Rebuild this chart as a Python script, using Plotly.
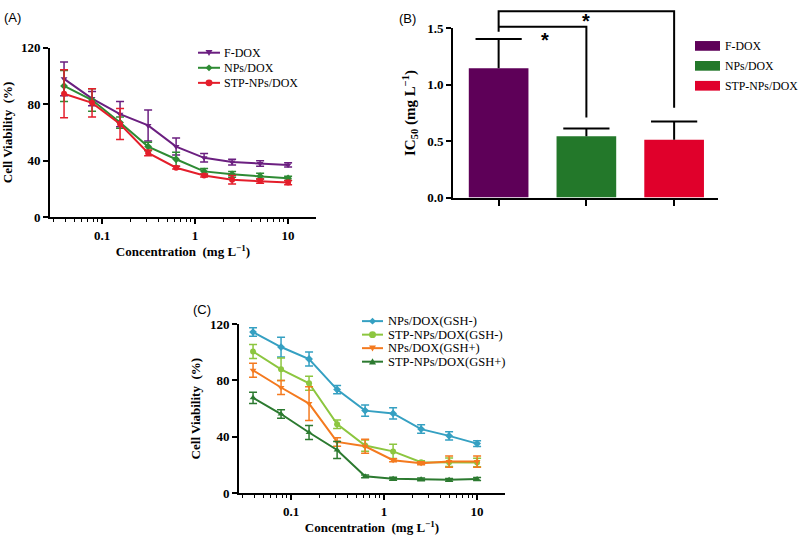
import plotly.graph_objects as go

# ---------------- data ----------------
conc = [0.039, 0.078, 0.156, 0.3125, 0.625, 1.25, 2.5, 5, 10]

# Panel A
a_names = ["F-DOX", "NPs/DOX", "STP-NPs/DOX"]
a_fdox = [98, 84, 73, 65, 50, 42, 39, 38, 37]
a_fdox_err = [12, 5, 9, 11, 6, 3, 2, 2, 1.5]
a_nps = [93, 83, 67, 50, 41, 32.4, 30.3, 29, 27.5]
a_nps_err = [11, 8, 4, 3, 5, 2, 2, 2, 1.5]
a_stp = [87.5, 81, 66, 45.5, 35, 29.5, 26.4, 25.5, 24.5]
a_stp_err = [17, 10, 11, 2, 1, 1, 3, 1.5, 1.5]

# Panel B
b_names = ["F-DOX", "NPs/DOX", "STP-NPs/DOX"]
b_ic50 = [1.147, 0.543, 0.514]
b_err = [0.26, 0.07, 0.16]
b_sig_top = 1.652
b_sig_low = 1.514
b_sig_left_end = 1.47
b_sig_right_ends = [0.71, 0.796]
b_ymax = 1.5

# Panel C
c_names = ["NPs/DOX(GSH-)", "STP-NPs/DOX(GSH-)", "NPs/DOX(GSH+)", "STP-NPs/DOX(GSH+)"]
c_nps_m = [114.3, 103.7, 95.2, 73.5, 58.6, 56.6, 45.5, 40.7, 35.2]
c_nps_m_err = [3, 7, 5, 3, 4, 4, 3, 3, 2]
c_stp_m = [100.5, 87.9, 78, 49, 33.8, 29.7, 22, 22, 21.8]
c_stp_m_err = [5, 8, 5, 3, 4, 5, 1, 3, 3]
c_nps_p = [87.2, 75, 63.6, 36.4, 33.3, 23.4, 21.3, 22.5, 22.5]
c_nps_p_err = [5, 5, 12, 3, 5, 1, 1, 4, 4]
c_stp_p = [67.7, 56.2, 43.1, 30.7, 12, 10.3, 9.9, 9.5, 10.1]
c_stp_p_err = [4, 3, 5, 6, 1, 1, 1, 1, 1]

y_ticks = [0, 40, 80, 120]
x_major = [0.1, 1, 10]
x_major_text = ["0.1", "1", "10"]
x_minor = [v * m for m in (0.01, 0.1, 1) for v in range(2, 10)] + [20]

# ---------------- styling ----------------
SERIF = "Liberation Serif"
SANS = "Liberation Sans"
a_colors = ["#6B1F80", "#2E8B34", "#E41E2B"]
a_symbols = ["triangle-down", "diamond", "circle"]
b_colors = ["#5E0058", "#23782A", "#E0002B"]
c_colors = ["#35A0C2", "#8CC63F", "#F47A1F", "#2C7A30"]
c_symbols = ["diamond", "circle", "triangle-down", "triangle-up"]

W, H = 800, 546
def px_x(p):
    return p / W
def px_y(p):
    return 1 - p / H

fig = go.Figure()

for name, ys, es, col, sym in zip(
        a_names, [a_fdox, a_nps, a_stp], [a_fdox_err, a_nps_err, a_stp_err],
        a_colors, a_symbols):
    fig.add_trace(go.Scatter(
        x=conc, y=ys, name=name, mode="lines+markers",
        line=dict(color=col, width=2),
        marker=dict(symbol=sym, size=6, color=col),
        error_y=dict(type="data", array=es, visible=True, color=col,
                     thickness=1.5, width=4),
        xaxis="x", yaxis="y", showlegend=False, cliponaxis=False))

for name, v, e, col in zip(b_names, b_ic50, b_err, b_colors):
    fig.add_trace(go.Bar(
        x=[name], y=[v], name=name, marker=dict(color=col, line=dict(width=0)),
        error_y=dict(type="data", array=[e], arrayminus=[0], symmetric=False,
                     visible=True, color="black", thickness=2, width=0),
        xaxis="x2", yaxis="y2", showlegend=False))

# top caps of the bar error bars (no cap on the bar top itself)
fig.add_trace(go.Scatter(
    x=b_names, y=[v + e for v, e in zip(b_ic50, b_err)], mode="markers",
    marker=dict(symbol="line-ew-open", size=33, color="black",
                line=dict(color="black", width=2)),
    showlegend=False, hoverinfo="skip", xaxis="x2", yaxis="y2",
    cliponaxis=False))

for name, ys, es, col, sym in zip(
        c_names, [c_nps_m, c_stp_m, c_nps_p, c_stp_p],
        [c_nps_m_err, c_stp_m_err, c_nps_p_err, c_stp_p_err],
        c_colors, c_symbols):
    fig.add_trace(go.Scatter(
        x=conc, y=ys, name=name, mode="lines+markers",
        line=dict(color=col, width=2),
        marker=dict(symbol=sym, size=6, color=col),
        error_y=dict(type="data", array=es, visible=True, color=col,
                     thickness=1.5, width=4),
        xaxis="x3", yaxis="y3", showlegend=False, cliponaxis=False))

tickfont = dict(family=SERIF, size=13, color="black", weight="bold")
titlefont = dict(family=SERIF, size=13, color="black", weight="bold")
nb = "\u00a0"

log_axis = dict(type="log", range=[-1.56, 1.30], tickmode="array",
                tickvals=x_major, ticktext=x_major_text, ticks="outside",
                ticklen=5, tickwidth=1.5, tickcolor="black",
                minor=dict(tickmode="array", tickvals=x_minor, ticks="outside",
                           ticklen=3, tickwidth=1.2, tickcolor="black"),
                showline=True, linecolor="black", linewidth=2,
                showgrid=False, zeroline=False, tickfont=tickfont,
                title=dict(text="Concentration" + nb + nb + "(mg L<sup>\u22121</sup>)",
                           font=titlefont, standoff=4))
lin_axis = dict(range=[0, 120], tickmode="array", tickvals=y_ticks,
                ticks="outside", ticklen=5, tickwidth=1.5, tickcolor="black",
                showline=True, linecolor="black", linewidth=2,
                showgrid=False, zeroline=False, tickfont=tickfont,
                title=dict(text="Cell Viability" + nb + nb + "(%)", font=titlefont,
                           standoff=6))

fig.update_layout(
    width=W, height=H, margin=dict(l=0, r=0, t=0, b=0),
    paper_bgcolor="white", plot_bgcolor="white", showlegend=False,
    xaxis=dict(domain=[px_x(50), px_x(316)], anchor="y", **log_axis),
    yaxis=dict(domain=[px_y(216), px_y(42)], anchor="x", **lin_axis),
    xaxis2=dict(domain=[px_x(453), px_x(718)], anchor="y2", range=[-0.52, 2.5],
                showticklabels=False, ticks="outside", ticklen=6, tickwidth=1.5,
                tickcolor="black", showline=True, linecolor="black", linewidth=2,
                showgrid=False, zeroline=False),
    yaxis2=dict(domain=[px_y(196), px_y(22)], anchor="x2", range=[0, b_ymax],
                dtick=0.5, tickformat=".1f", ticks="outside", ticklen=5,
                tickwidth=1.5, tickcolor="black", showline=True,
                linecolor="black", linewidth=2, showgrid=False, zeroline=False,
                tickfont=tickfont,
                title=dict(text="IC<sub>50</sub>" + nb + "(mg" + nb + "L<sup>\u22121</sup>)",
                           font=dict(family=SERIF, size=15, color="black",
                                     weight="bold"), standoff=8)),
    xaxis3=dict(domain=[px_x(239), px_x(505)], anchor="y3", **log_axis),
    yaxis3=dict(domain=[px_y(500), px_y(326)], anchor="x3", **lin_axis),
    bargap=0.32,
)

shapes = []
annots = []

# significance brackets in panel B
shapes += [
    dict(type="path", xref="x2", yref="y2 domain",
         path=f"M 0 {b_sig_left_end / b_ymax} L 0 {b_sig_top / b_ymax} "
              f"L 2 {b_sig_top / b_ymax} L 2 {b_sig_right_ends[1] / b_ymax}",
         line=dict(color="black", width=2)),
    dict(type="path", xref="x2", yref="y2 domain",
         path=f"M 0 {b_sig_low / b_ymax} L 1 {b_sig_low / b_ymax} "
              f"L 1 {b_sig_right_ends[0] / b_ymax}",
         line=dict(color="black", width=2)),
]
star_font = dict(family=SANS, size=20, color="black", weight="bold")
annots += [
    dict(text="*", x=0.53, y=1.51 / b_ymax, xref="x2", yref="y2 domain",
         showarrow=False, font=star_font),
    dict(text="*", x=1.0, y=1.685 / b_ymax, xref="x2", yref="y2 domain",
         showarrow=False, font=star_font),
]


# ---- legends drawn as layout items (compact spacing like the original) ----
def marker_shape(sym, cx, cy, r, col):
    if sym == "circle":
        return dict(type="circle", xref="paper", yref="paper",
                    x0=px_x(cx - r), x1=px_x(cx + r), y0=px_y(cy + r), y1=px_y(cy - r),
                    fillcolor=col, line=dict(color=col, width=0))
    if sym == "triangle-down":
        pts = [(cx - r, cy - 0.8 * r), (cx + r, cy - 0.8 * r), (cx, cy + r)]
    elif sym == "triangle-up":
        pts = [(cx - r, cy + 0.8 * r), (cx + r, cy + 0.8 * r), (cx, cy - r)]
    else:
        pts = [(cx, cy - r), (cx + r, cy), (cx, cy + r), (cx - r, cy)]
    path = "M " + " L ".join(f"{px_x(x)} {px_y(y)}" for x, y in pts) + " Z"
    return dict(type="path", xref="paper", yref="paper", path=path,
                fillcolor=col, line=dict(color=col, width=0))


def line_legend(names, colors, symbols, x0, x1, xt, y_first, dy, fsize):
    for i, (nm, col, sym) in enumerate(zip(names, colors, symbols)):
        yc = y_first + i * dy
        shapes.append(dict(type="line", xref="paper", yref="paper",
                           x0=px_x(x0), x1=px_x(x1), y0=px_y(yc), y1=px_y(yc),
                           line=dict(color=col, width=2)))
        shapes.append(marker_shape(sym, (x0 + x1) / 2, yc, 3.5, col))
        annots.append(dict(text=nm, x=px_x(xt), y=px_y(yc), xref="paper",
                           yref="paper", xanchor="left", yanchor="middle",
                           showarrow=False, borderpad=0,
                           font=dict(family=SERIF, size=fsize, color="black")))


line_legend(a_names, a_colors, a_symbols, 198, 220, 223, 47, 15.5, 12)
line_legend(c_names, c_colors, c_symbols, 362, 383, 387, 323, 13.9, 12.5)

for i, (nm, col) in enumerate(zip(b_names, b_colors)):
    yc = 40 + i * 20.5
    shapes.append(dict(type="rect", xref="paper", yref="paper",
                       x0=px_x(695), x1=px_x(720), y0=px_y(yc + 5), y1=px_y(yc - 5),
                       fillcolor=col, line=dict(width=0)))
    annots.append(dict(text=nm, x=px_x(724), y=px_y(yc), xref="paper",
                       yref="paper", xanchor="left", yanchor="middle",
                       showarrow=False, borderpad=0,
                       font=dict(family=SERIF, size=11.8, color="black")))

# panel letters
for lab, xp, yp in [("(A)", 2, 11), ("(B)", 397, 12), ("(C)", 191, 311)]:
    annots.append(dict(text=lab, x=px_x(xp), y=px_y(yp), xref="paper",
                       yref="paper", xanchor="left", yanchor="middle",
                       showarrow=False,
                       font=dict(family=SANS, size=13, color="black")))

fig.update_layout(shapes=shapes, annotations=annots)

# remove the default page margin so the 800x546 figure fills the window exactly
fig.write_html(
    "out.html",
    config={"displayModeBar": False},
    post_script="document.body.style.margin='0px';"
                "document.documentElement.style.overflow='hidden';")
